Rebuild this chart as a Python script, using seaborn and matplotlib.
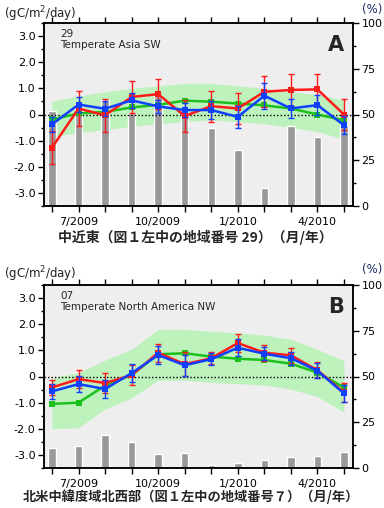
import matplotlib
matplotlib.use("Agg")
import matplotlib.pyplot as plt
import seaborn as sns
from matplotlib.ticker import MultipleLocator, FixedLocator

# months Jun 2009 .. May 2010
months = list(range(12))
month_labels = ["", "7/2009", "", "", "10/2009", "", "", "1/2010", "", "", "4/2010", ""]

# Panel A : 29 Temperate Asia SW
a_red = [-1.27, 0.23, -0.03, 0.67, 0.78, -0.06, 0.32, 0.23, 0.87, 0.94, 0.96, 0.0]
a_red_err = [0.63, 0.66, 0.63, 0.62, 0.58, 0.6, 0.59, 0.61, 0.6, 0.62, 0.6, 0.6]
a_blue = [-0.38, 0.38, 0.22, 0.54, 0.31, 0.17, 0.17, -0.09, 0.72, 0.23, 0.36, -0.41]
a_blue_err = [0.3, 0.3, 0.28, 0.3, 0.25, 0.28, 0.33, 0.43, 0.5, 0.35, 0.37, 0.35]
a_green = [-0.19, 0.04, 0.1, 0.27, 0.37, 0.53, 0.49, 0.42, 0.35, 0.23, 0.0, -0.22]
a_band_hi = [0.51, 0.7, 0.87, 1.0, 1.09, 1.19, 1.19, 1.1, 1.0, 0.87, 0.76, 0.55]
a_band_lo = [-0.83, -0.7, -0.58, -0.45, -0.35, -0.27, -0.21, -0.27, -0.35, -0.5, -0.65, -0.95]
a_pct = [52, 56, 58, 51, 60, 51, 42.6, 30.6, 10, 43.7, 37.9, 44]

# Panel B : 07 Temperate North America NW
b_red = [-0.42, -0.1, -0.25, 0.05, 0.91, 0.47, 0.7, 1.28, 0.91, 0.81, 0.24, -0.61]
b_red_err = [0.3, 0.35, 0.38, 0.38, 0.34, 0.45, 0.22, 0.36, 0.3, 0.28, 0.3, 0.35]
b_blue = [-0.57, -0.29, -0.48, 0.13, 0.82, 0.43, 0.66, 1.1, 0.87, 0.7, 0.22, -0.65]
b_blue_err = [0.28, 0.3, 0.33, 0.35, 0.33, 0.4, 0.22, 0.32, 0.25, 0.25, 0.28, 0.33]
b_green = [-1.05, -1.0, -0.35, 0.06, 0.85, 0.89, 0.76, 0.68, 0.63, 0.49, 0.15, -0.42]
b_band_hi = [-0.06, 0.15, 0.62, 1.04, 1.8, 1.8, 1.73, 1.67, 1.58, 1.42, 1.04, 0.6]
b_band_lo = [-2.0, -1.96, -1.24, -0.82, -0.14, -0.14, -0.23, -0.27, -0.33, -0.48, -0.77, -1.37]
b_pct = [11, 12, 18, 14, 7.7, 8, 1.6, 2.7, 4.4, 6.2, 6.6, 8.6]

RED = "#ff1a1a"
BLUE = "#1040ff"
GREEN = "#1cc01c"
BAND = "#bdf2bd"
BAR = "#999999"
BG = "#eeeeee"

sns.set_theme(style="ticks")
plt.rcParams["font.family"] = ["DejaVu Sans"]


def draw_panel(ax, red, red_err, blue, blue_err, green, band_lo, band_hi, pct,
               code, name, letter):
    ax2 = ax.twinx()
    ax.set_zorder(ax2.get_zorder() + 1)
    ax.patch.set_visible(False)
    ax2.patch.set_visible(True)
    ax2.set_facecolor(BG)

    # green spread band lies under the bars
    ax2.fill_between(months, band_lo, band_hi, transform=ax.transData,
                     color=BAND, linewidth=0, zorder=1)
    sns.barplot(x=months, y=pct, ax=ax2, color=BAR, width=0.28,
                native_scale=True, saturation=1, zorder=2)

    ax.axhline(0, color="black", linestyle=(0, (1, 1.5)), linewidth=1, zorder=1)
    sns.lineplot(x=months, y=green, ax=ax, color=GREEN, marker="s",
                 markersize=4, markeredgewidth=0, linewidth=1.8, zorder=3)
    ax.errorbar(months, red, yerr=red_err, fmt="none", ecolor=RED,
                elinewidth=1, capsize=2.5, capthick=1, zorder=4)
    sns.lineplot(x=months, y=red, ax=ax, color=RED, marker="s",
                 markersize=4, markeredgewidth=0, linewidth=1.8, zorder=4)
    ax.errorbar(months, blue, yerr=blue_err, fmt="none", ecolor=BLUE,
                elinewidth=1, capsize=2.5, capthick=1, zorder=5)
    sns.lineplot(x=months, y=blue, ax=ax, color=BLUE, marker="s",
                 markersize=4, markeredgewidth=0, linewidth=1.8, zorder=5)

    ax.set_xlim(-0.3, 11.34)
    ax.set_ylim(-3.5, 3.5)
    ax2.set_ylim(0, 100)
    ax.set_xlabel("")
    ax.set_ylabel("")
    ax2.set_ylabel("")

    ax.xaxis.set_major_locator(FixedLocator(months))
    ax.set_xticklabels(month_labels)
    ax.yaxis.set_major_locator(FixedLocator([-3, -2, -1, 0, 1, 2, 3]))
    ax.set_yticklabels(["-3.0", "-2.0", "-1.0", "0", "1.0", "2.0", "3.0"])
    ax.yaxis.set_minor_locator(MultipleLocator(0.5))
    ax2.yaxis.set_major_locator(FixedLocator([0, 25, 50, 75, 100]))
    ax2.yaxis.set_minor_locator(MultipleLocator(12.5))

    ax.tick_params(axis="x", which="major", direction="out", top=True, bottom=True,
                   length=4, width=1, labelsize=8, pad=4, colors="black")
    ax.tick_params(axis="y", which="both", direction="out", left=True, right=False,
                   width=1, labelsize=8, pad=2, colors="black")
    ax.tick_params(axis="y", which="major", length=4)
    ax.tick_params(axis="y", which="minor", length=2.5)
    ax2.tick_params(axis="y", which="both", direction="out", right=True,
                    width=1, labelsize=8, pad=2, colors="black")
    ax2.tick_params(axis="y", which="major", length=4)
    ax2.tick_params(axis="y", which="minor", length=2.5)
    for a in (ax, ax2):
        for s in a.spines.values():
            s.set_visible(True)
            s.set_color("black")
            s.set_linewidth(1.1)

    ax.text(0.052, 0.965, f"{code}\n{name}", transform=ax.transAxes,
            ha="left", va="top", fontsize=7.5, linespacing=1.1, zorder=6)
    ax.text(0.945, 0.88, letter, transform=ax.transAxes, ha="center",
            va="center", fontsize=15, fontweight="bold", zorder=6)


fig = plt.figure(figsize=(3.84, 5.08), dpi=100)
ax_a = fig.add_axes([44 / 384, 1 - 206 / 508, 309 / 384, 183 / 508])
ax_b = fig.add_axes([44 / 384, 1 - 468 / 508, 309 / 384, 183 / 508])

draw_panel(ax_a, a_red, a_red_err, a_blue, a_blue_err, a_green,
           a_band_lo, a_band_hi, a_pct, "29", "Temperate Asia SW", "A")
draw_panel(ax_b, b_red, b_red_err, b_blue, b_blue_err, b_green,
           b_band_lo, b_band_hi, b_pct, "07", "Temperate North America NW", "B")

for ytop in (14, 274):
    fig.text(4 / 384, 1 - ytop / 508, "(gC/m$^2$/day)", ha="left", va="center",
             fontsize=8.5, color="#222222")
    fig.text(382 / 384, 1 - (ytop - 4) / 508, "(%)", ha="right", va="center",
             fontsize=8.5, color="#1a2a60")

fig.text(195 / 384, 1 - 237 / 508, "中近東（図１左中の地域番号 29）（月/年）",
         ha="center", va="center", fontsize=10, fontweight="bold",
         family=["Noto Sans CJK JP", "DejaVu Sans"])
fig.text(191 / 384, 1 - 497 / 508, "北米中緯度域北西部（図１左中の地域番号７）（月/年）",
         ha="center", va="center", fontsize=9.5, fontweight="bold",
         family=["Noto Sans CJK JP", "DejaVu Sans"])

fig.savefig("out.png", dpi=100, facecolor="white")
